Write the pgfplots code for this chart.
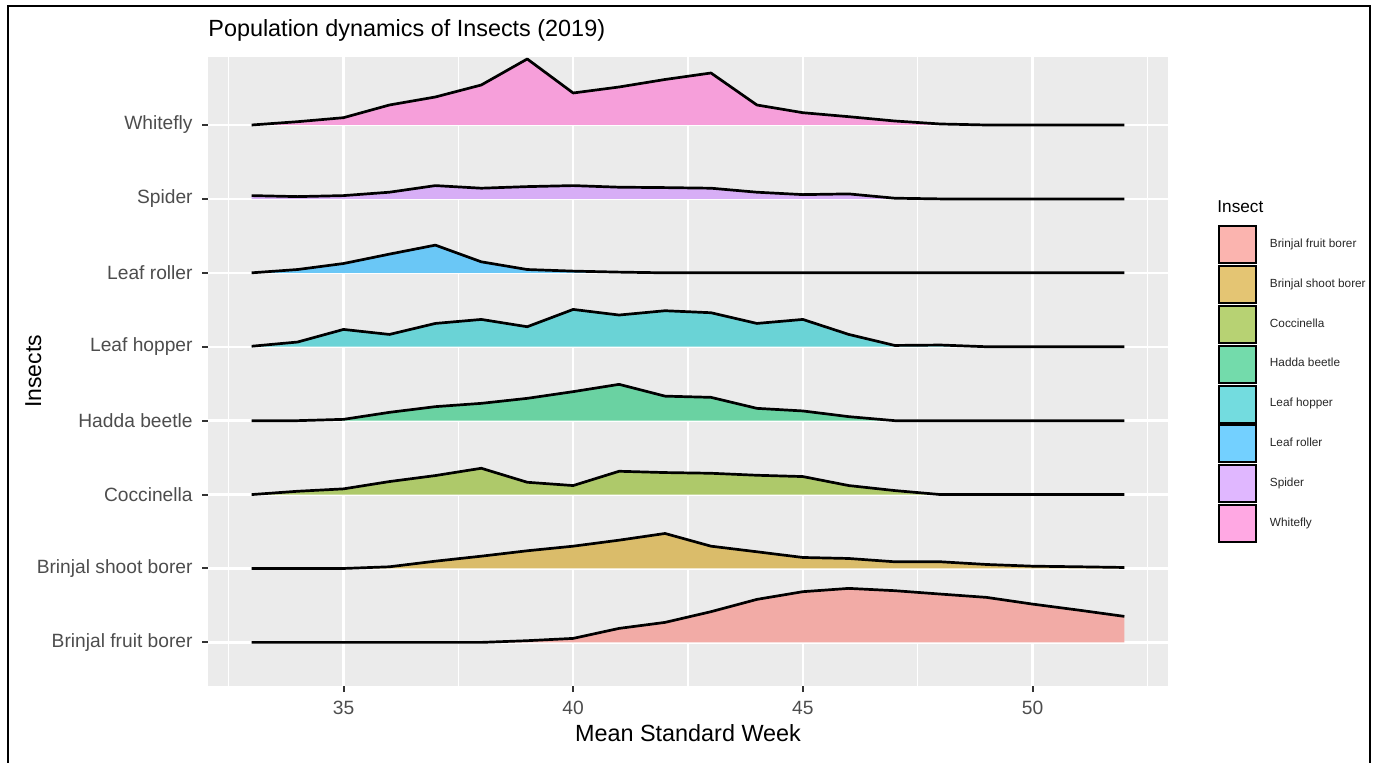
\documentclass[border=0pt]{standalone}
\usepackage{pgfplots}
\pgfplotsset{compat=1.18}
\usepackage{pgfplotstable}
\usepgfplotslibrary{fillbetween}
\usepackage{fontspec}
\setmainfont{Liberation Sans}
\definecolor{panel}{HTML}{EBEBEB}
\definecolor{txt}{HTML}{4D4D4D}
\definecolor{tk}{HTML}{333333}
\definecolor{hfb}{HTML}{F8766D}
\definecolor{hsb}{HTML}{CD9600}
\definecolor{hco}{HTML}{7CAE00}
\definecolor{hhb}{HTML}{00BE67}
\definecolor{hlh}{HTML}{00BFC4}
\definecolor{hlr}{HTML}{00A9FF}
\definecolor{hsp}{HTML}{C77CFF}
\definecolor{hwf}{HTML}{FF61CC}
\colorlet{ffb}{hfb!55!panel}
\colorlet{fsb}{hsb!55!panel}
\colorlet{fco}{hco!55!panel}
\colorlet{fhb}{hhb!55!panel}
\colorlet{flh}{hlh!55!panel}
\colorlet{flr}{hlr!55!panel}
\colorlet{fsp}{hsp!55!panel}
\colorlet{fwf}{hwf!55!panel}
\colorlet{lfb}{hfb!55!white}
\colorlet{lsb}{hsb!55!white}
\colorlet{lco}{hco!55!white}
\colorlet{lhb}{hhb!55!white}
\colorlet{llh}{hlh!55!white}
\colorlet{llr}{hlr!55!white}
\colorlet{lsp}{hsp!55!white}
\colorlet{lwf}{hwf!55!white}

% ridge heights (density, in pixel units of the original; 73.9 = one row)
\pgfplotstableread{
w   fb    sb    co    hb    lh    lr    sp    wf
33  0     0     0     0     0.5   0     3.3   0
34  0     0     3.3   0     4.7   3.3   2.3   3.3
35  0     0     5.7   1.3   17.3  9.3   3.3   7.3
36  0     1.7   13    8.3   12.3  18.7  6.7   20
37  0     7.3   19    14    23.3  27.7  13.3  28
38  0     12.3  26.3  17.3  27.3  11    10.7  40
39  1.7   17.7  12.3  22.3  20    3.3   12.3  66
40  4     22.3  9     29    37.3  1.7   13.3  32
41  14    28.3  23.3  36.3  31.7  0.7   11.7  38
42  20    35    22    24.5  36    0     11.3  45.5
43  30.7  22.3  21.3  23.3  34    0     10.7  52
44  43    16.7  19.3  12.3  23.3  0     6.7   20
45  50.7  11    18    9.7   27.3  0     4.3   12.3
46  54    10    9     4     12.3  0     5     8.3
47  51.7  6.7   4     0     1.3   0     0.7   4
48  48.3  6.7   0     0     1.7   0     0     1
49  45    4     0     0     0     0     0     0
50  38.3  2.3   0     0     0     0     0     0
51  32.3  1.7   0     0     0     0     0     0
52  26    1     0     0     0     0     0     0
}\ridges

\newcommand{\ridge}[3]{%
  \addplot[draw=none, name path=b#1, forget plot] coordinates {(33,#2) (52,#2)};
  \addplot[draw=none, name path=r#1, forget plot] table[x=w, y expr=#2+\thisrow{#1}/73.9] {\ridges};
  \addplot[fill=#3, draw=none, forget plot] fill between[of=r#1 and b#1];
  \addplot[black, line width=1.35pt, line join=round, forget plot] table[x=w, y expr=#2+\thisrow{#1}/73.9] {\ridges};
}
\newcommand{\key}[2]{%
  \addlegendimage{legend image code/.code={\draw[black,line width=1pt,fill=#1] (0pt,-9.25pt) rectangle (18.5pt,9.25pt);}}
  \addlegendentry{#2}
}

\begin{document}
\begin{tikzpicture}
\begin{axis}[
  scale only axis, width=480pt, height=314.5pt,
  at={(104pt,38pt)}, anchor=south west,
  xmin=32.05, xmax=52.95, ymin=0.41, ymax=8.92,
  axis background/.style={fill=panel},
  axis line style={draw=none},
  xtick={35,40,45,50},
  minor xtick={32.5,37.5,42.5,47.5,52.5},
  ytick={1,2,3,4,5,6,7,8},
  yticklabels={Brinjal fruit borer,Brinjal shoot borer,Coccinella,Hadda beetle,Leaf hopper,Leaf roller,Spider,Whitefly},
  grid=both,
  major grid style={white, line width=1.2pt},
  minor grid style={white, line width=0.6pt},
  xtick pos=bottom, ytick pos=left,
  tick align=outside,
  major tick length=3pt, minor tick length=0pt,
  major tick style={tk, line width=1pt},
  tick label style={font=\fontsize{9.6}{11}\selectfont, text=txt},
  /pgf/number format/assume math mode=true,
  xticklabel style={anchor=north, inner sep=0pt, yshift=-4.5pt},
  yticklabel style={anchor=east, inner sep=0pt, xshift=-4.5pt},
  title={Population dynamics of Insects (2019)},
  title style={at={(0,1)}, anchor=base west, yshift=4pt, font=\fontsize{11.7}{13}\selectfont, inner sep=0pt},
  xlabel={Mean Standard Week}, ylabel={Insects},
  xlabel style={at={(axis description cs:0.5,-0.0747)}, anchor=center, font=\fontsize{11.7}{13}\selectfont, inner sep=0pt},
  ylabel style={at={(axis description cs:-0.182,0.5)}, anchor=center, font=\fontsize{11.5}{13}\selectfont, inner sep=0pt},
  legend style={at={(1.052,0.733)}, anchor=north west, draw=none, fill=none, inner sep=0pt, outer sep=0pt,
    row sep=0.45pt, column sep=6.5pt, font=\fontsize{5.9}{6.5}\selectfont, text=black!85, nodes={inner sep=0pt}},
  legend cell align=left,
]
\ridge{wf}{8}{fwf}
\ridge{sp}{7}{fsp}
\ridge{lr}{6}{flr}
\ridge{lh}{5}{flh}
\ridge{hb}{4}{fhb}
\ridge{co}{3}{fco}
\ridge{sb}{2}{fsb}
\ridge{fb}{1}{ffb}
\key{lfb}{Brinjal fruit borer}
\key{lsb}{Brinjal shoot borer}
\key{lco}{Coccinella}
\key{lhb}{Hadda beetle}
\key{llh}{Leaf hopper}
\key{llr}{Leaf roller}
\key{lsp}{Spider}
\key{lwf}{Whitefly}
\end{axis}
\node[anchor=west, inner sep=0pt, font=\fontsize{8.6}{10}\selectfont] at (608.5pt,277.5pt) {Insect};
\draw[line width=1pt] (4pt,-10pt) -- (4pt,378pt) -- (685pt,378pt) -- (685pt,-10pt);
\pgfresetboundingbox
\path[use as bounding box] (0,0) rectangle (688pt,381pt);
\end{tikzpicture}
\end{document}
